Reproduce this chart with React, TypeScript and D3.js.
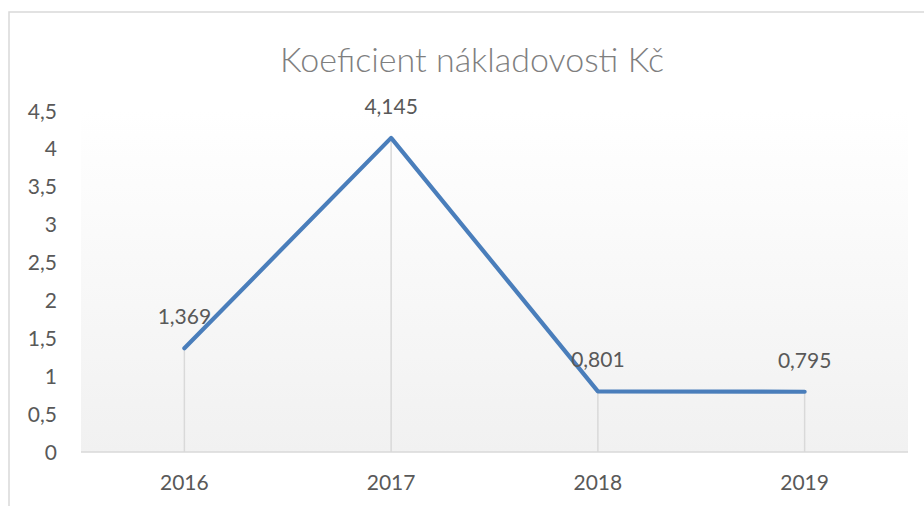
import React from 'react';
import * as d3 from 'd3';

const years = ['2016', '2017', '2018', '2019'];
const values = [1.369, 4.145, 0.801, 0.795];
const valueLabels = ['1,369', '4,145', '0,801', '0,795'];
const yTicks = [0, 0.5, 1, 1.5, 2, 2.5, 3, 3.5, 4, 4.5];

const W = 924;
const H = 506;
const plot = { left: 81, right: 908, top: 111, bottom: 452 };
const font = 'Lato, "Open Sans", sans-serif';
const textColor = '#595959';

export default function App() {
  const x = d3.scaleBand().domain(years).range([plot.left, plot.right]);
  const y = d3.scaleLinear().domain([0, 4.5]).range([plot.bottom, plot.top]);
  const cx = (d: string) => (x(d) as number) + x.bandwidth() / 2;

  const pathD = d3
    .line<number>()
    .x((_, i) => cx(years[i]))
    .y(v => y(v))(values) as string;

  const fmt = (v: number) => String(v).replace('.', ',');

  return (
    <svg
      width={W}
      height={H}
      style={{ position: 'absolute', left: 0, top: 0, background: '#fff' }}
    >
      <defs>
        <linearGradient id="bg" x1="0" y1="0" x2="0" y2="1">
          <stop offset="0" stopColor="#ffffff" />
          <stop offset="1" stopColor="#f1f1f1" />
        </linearGradient>
      </defs>

      {/* chart border */}
      <rect x={9} y={12} width={W + 10} height={H + 10} fill="none" stroke="#d9d9d9" strokeWidth={1.5} />

      <text
        x={472}
        y={72}
        textAnchor="middle"
        fontFamily={font}
        fontWeight={300}
        fontSize={34}
        fill="#7f7f7f"
      >
        Koeficient nákladovosti Kč
      </text>

      <rect
        x={plot.left}
        y={plot.top}
        width={plot.right - plot.left}
        height={plot.bottom - plot.top}
        fill="url(#bg)"
      />

      {/* drop lines */}
      {values.map((v, i) => (
        <line
          key={'d' + i}
          x1={cx(years[i])}
          x2={cx(years[i])}
          y1={y(v)}
          y2={plot.bottom}
          stroke="#d9d9d9"
          strokeWidth={1.5}
        />
      ))}

      <line x1={plot.left} x2={plot.right} y1={plot.bottom} y2={plot.bottom} stroke="#d9d9d9" strokeWidth={1.5} />

      {yTicks.map(t => (
        <text
          key={t}
          x={57}
          y={y(t)}
          dy="0.36em"
          textAnchor="end"
          fontFamily={font}
          fontSize={21}
          fill={textColor}
        >
          {fmt(t)}
        </text>
      ))}

      {years.map(yr => (
        <text key={yr} x={cx(yr)} y={490} textAnchor="middle" fontFamily={font} fontSize={21} fill={textColor}>
          {yr}
        </text>
      ))}

      <path d={pathD} fill="none" stroke="#4a7ebb" strokeWidth={4.2} strokeLinejoin="round" strokeLinecap="round" />

      {values.map((v, i) => (
        <text
          key={'l' + i}
          x={cx(years[i])}
          y={y(v) - 24}
          textAnchor="middle"
          fontFamily={font}
          fontSize={21}
          fill={textColor}
        >
          {valueLabels[i]}
        </text>
      ))}
    </svg>
  );
}
